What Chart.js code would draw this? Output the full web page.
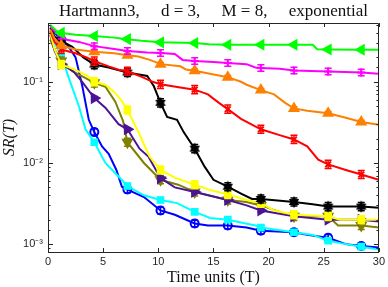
<!DOCTYPE html>
<html><head><meta charset="utf-8">
<script src="https://cdn.jsdelivr.net/npm/chart.js@4.4.1/dist/chart.umd.min.js"></script>
<style>html,body{margin:0;padding:0;background:#fff;}</style>
</head><body>
<canvas id="c" width="388" height="287"></canvas>
<script>
// ---- data (time units T, success rate SR(T)) ----
const markerT = [1.2, 4.2, 7.2, 10.2, 13.3, 16.3, 19.3, 22.3, 25.4, 28.4];
const xTickValues = [0, 5, 10, 15, 20, 25, 30];
const yTickPowers = [-3, -2, -1];

const green = [[0.2,0.50],[0.5,0.46],[0.8,0.42],[1.2,0.40],[2.5,0.38],[4.2,0.366],[6,0.35],[7.2,0.335],[8.5,0.32],[10.2,0.306],[13.3,0.30],[14.6,0.29],[16.3,0.286],[19.3,0.286],[22.3,0.286],[24,0.285],[24.4,0.252],[25.4,0.25],[28.4,0.248],[30,0.248]];
const magenta = [[0.2,0.48],[0.6,0.42],[1.2,0.37],[1.7,0.33],[2.8,0.31],[4.2,0.275],[6,0.254],[7.2,0.24],[9,0.23],[10.2,0.226],[11.5,0.22],[12.2,0.186],[13.3,0.18],[15,0.175],[16.3,0.17],[18,0.165],[18.8,0.15],[19.3,0.148],[21,0.145],[22.3,0.138],[25.4,0.134],[28.4,0.13],[30,0.126]];
const orange = [[0.2,0.44],[0.6,0.34],[1.2,0.28],[2.5,0.25],[4.2,0.235],[6,0.225],[7.2,0.212],[8.2,0.205],[9.3,0.185],[10.2,0.165],[12,0.155],[12.5,0.142],[13.3,0.137],[14.8,0.125],[16.3,0.114],[17.5,0.1],[18,0.092],[19.3,0.079],[20.5,0.07],[21.5,0.055],[22.3,0.047],[23.5,0.044],[25.4,0.041],[27,0.036],[28.4,0.032],[30,0.0295]];
const red = [[0.2,0.42],[0.6,0.31],[1.2,0.25],[2.5,0.225],[3.5,0.2],[4.2,0.18],[5.5,0.155],[6.4,0.141],[7.2,0.135],[8.5,0.115],[9.5,0.1],[10.2,0.093],[12,0.085],[13.3,0.08],[14.5,0.07],[15.5,0.055],[16.3,0.046],[17.5,0.035],[19.3,0.026],[21,0.022],[22.3,0.0195],[23.5,0.016],[24.5,0.011],[25.4,0.0096],[27,0.0082],[28.4,0.0072],[30,0.0062]];
const black = [[0.2,0.46],[0.6,0.36],[1.2,0.32],[2.2,0.27],[3.2,0.2],[4.2,0.163],[5.5,0.15],[7.2,0.13],[9,0.118],[9.6,0.088],[10.2,0.055],[10.8,0.037],[11.7,0.034],[12.3,0.024],[13.3,0.015],[14.2,0.009],[15,0.0062],[16.3,0.0051],[17.5,0.0042],[18.5,0.0036],[19.3,0.0036],[22.3,0.0033],[24,0.0031],[25.4,0.0029],[28.4,0.0029],[30,0.0028]];
const yellow = [[0.2,0.40],[0.6,0.25],[1.2,0.163],[2.5,0.14],[3.5,0.12],[4.2,0.1],[5.2,0.092],[6,0.075],[6.7,0.058],[7.2,0.045],[8.2,0.024],[9.2,0.012],[10.2,0.0082],[11.5,0.0066],[13.3,0.0054],[14.8,0.0046],[16.3,0.0041],[18,0.0035],[19.3,0.0032],[20.5,0.0026],[22.3,0.0023],[25.4,0.0022],[26.5,0.002],[28.4,0.002],[30,0.002]];
const purple = [[0.2,0.38],[0.6,0.24],[1.2,0.165],[2.3,0.134],[3.1,0.1],[4.2,0.063],[5.2,0.048],[6.4,0.03],[7.2,0.026],[8.3,0.015],[9.1,0.012],[10.2,0.0065],[11.5,0.005],[13.3,0.0044],[16.3,0.0035],[18,0.003],[19.3,0.0026],[22.3,0.0022],[25.4,0.002],[28.4,0.002],[30,0.0019]];
const olive = [[0.2,0.33],[0.6,0.25],[1.2,0.18],[2.2,0.135],[3.2,0.115],[4.2,0.097],[5.2,0.087],[6.1,0.057],[6.8,0.033],[7.2,0.018],[8.7,0.01],[10.2,0.0062],[11.8,0.0054],[13.3,0.0044],[16.3,0.0035],[18,0.0033],[19.3,0.003],[21,0.0025],[22.3,0.0022],[25.4,0.0022],[26.3,0.0017],[28.4,0.0017],[30,0.0016]];
const cyan = [[0.2,0.42],[0.6,0.3],[1.2,0.21],[1.9,0.11],[2.8,0.05],[3.4,0.026],[4.2,0.018],[5.2,0.01],[6.4,0.0068],[7.2,0.0052],[8.7,0.004],[10.2,0.0035],[11.7,0.0032],[13.3,0.0025],[14.7,0.0021],[16.3,0.002],[18.8,0.0017],[19.3,0.0016],[22.3,0.0014],[24,0.0013],[25.4,0.0011],[27,0.001],[28.4,0.00093],[30,0.00086]];
const blue = [[0.2,0.5],[0.6,0.4],[1.2,0.33],[1.8,0.28],[2.5,0.2],[3.1,0.09],[3.7,0.034],[4.2,0.024],[4.9,0.016],[5.5,0.013],[6.2,0.0082],[6.7,0.0051],[7.2,0.0047],[8.7,0.0038],[10.2,0.0026],[11.5,0.0023],[13.3,0.0018],[14.5,0.0017],[16.3,0.0017],[18,0.0016],[19.3,0.00146],[22.3,0.0014],[23.5,0.0013],[25.4,0.0012],[27,0.001],[28.4,0.00095],[30,0.00091]];
// error bar half-width (in decades) for each series
const errDecades = [0, 0.04, 0.02, 0.05, 0.05, 0.05, 0.02, 0.05, 0.03, 0.04];

// ---- styling ----
function hexagram(color, r) {
  const s = Math.ceil(r * 2 + 2);
  const c = document.createElement('canvas'); c.width = s; c.height = s;
  const g = c.getContext('2d'); g.fillStyle = color;
  const cx = s / 2, cy = s / 2;
  for (const rot of [-Math.PI / 2, Math.PI / 2]) {
    g.beginPath();
    for (let k = 0; k < 3; k++) {
      const a = rot + k * 2 * Math.PI / 3;
      const px = cx + r * Math.cos(a), py = cy + r * Math.sin(a);
      k ? g.lineTo(px, py) : g.moveTo(px, py);
    }
    g.closePath(); g.fill();
  }
  return c;
}
const series = [
  {pts: green,   color: '#00ff00', ps: 'triangle', rot: -90, fill: true,  r: 5},
  {pts: magenta, color: '#ff00ff', ps: 'cross',    rot: 0,   fill: false, r: 4},
  {pts: orange,  color: '#ff8000', ps: 'triangle', rot: 0,   fill: true,  r: 5},
  {pts: red,     color: '#ff0000', ps: 'crossRot', rot: 0,   fill: false, r: 4},
  {pts: black,   color: '#000000', ps: hexagram('#000000', 6), rot: 0, fill: true, r: 5},
  {pts: yellow,  color: '#ffff00', ps: 'rect',     rot: 0,   fill: true,  r: 4},
  {pts: purple,  color: '#4b1496', ps: 'triangle', rot: 90,  fill: true,  r: 5},
  {pts: olive,   color: '#808000', ps: 'triangle', rot: 180, fill: true,  r: 5},
  {pts: cyan,    color: '#00ffff', ps: 'rect',     rot: 0,   fill: true,  r: 4},
  {pts: blue,    color: '#0000ff', ps: 'circle',   rot: 0,   fill: false, r: 4}
];

const datasets = [];
series.forEach((s, i) => {
  const line = s.pts.map(([x, y]) => ({x, y}));
  const marks = line.filter(p => markerT.some(t => Math.abs(t - p.x) < 1e-6));
  datasets.push({
    data: marks, showLine: false, pointStyle: s.ps, pointRotation: s.rot,
    pointRadius: s.r, pointBorderWidth: 2, borderColor: s.color,
    backgroundColor: s.fill ? s.color : 'rgba(0,0,0,0)', errDec: errDecades[i]
  });
  datasets.push({
    data: line, borderColor: s.color, borderWidth: 2, pointRadius: 0, tension: 0, fill: false
  });
});

const sup = {'-': '\u207B', '0': '\u2070', '1': '\u00B9', '2': '\u00B2', '3': '\u00B3', '4': '\u2074'};
const axisColor = '#262626';

const errorBars = {
  id: 'errorBars',
  afterDatasetDraw(chart, args) {
    const ds = chart.data.datasets[args.index];
    if (!ds.errDec) return;
    const ctx = chart.ctx, xs = chart.scales.x, ys = chart.scales.y;
    const a = chart.chartArea;
    ctx.save();
    ctx.beginPath(); ctx.rect(a.left, a.top, a.right - a.left, a.bottom - a.top); ctx.clip();
    ctx.strokeStyle = ds.borderColor; ctx.lineWidth = 1.5;
    const f = Math.pow(10, ds.errDec);
    ds.data.forEach(p => {
      const x = xs.getPixelForValue(p.x);
      const y1 = ys.getPixelForValue(p.y * f), y2 = ys.getPixelForValue(p.y / f);
      ctx.beginPath();
      ctx.moveTo(x, y1); ctx.lineTo(x, y2);
      ctx.moveTo(x - 3.5, y1); ctx.lineTo(x + 3.5, y1);
      ctx.moveTo(x - 3.5, y2); ctx.lineTo(x + 3.5, y2);
      ctx.stroke();
    });
    ctx.restore();
  }
};

const boxTicks = {
  id: 'boxTicks',
  afterDraw(chart) {
    const ctx = chart.ctx, a = chart.chartArea, xs = chart.scales.x, ys = chart.scales.y;
    ctx.save();
    ctx.strokeStyle = axisColor; ctx.lineWidth = 1;
    ctx.beginPath();
    ctx.rect(Math.round(a.left) + 0.5, Math.round(a.top) + 0.5, Math.round(a.right - a.left) - 1, Math.round(a.bottom - a.top));
    ctx.stroke();
    ctx.beginPath();
    xs.ticks.forEach(t => {
      const x = Math.round(xs.getPixelForValue(t.value)) + 0.5;
      ctx.moveTo(x, a.bottom); ctx.lineTo(x, a.bottom - 4);
      ctx.moveTo(x, a.top); ctx.lineTo(x, a.top + 4);
    });
    ys.ticks.forEach(t => {
      const p = Math.log10(t.value);
      const major = Math.abs(p - Math.round(p)) < 1e-6;
      const len = major ? 5 : 2.5;
      const y = Math.round(ys.getPixelForValue(t.value)) + 0.5;
      if (y < a.top + 1 || y > a.bottom - 1) return;
      ctx.moveTo(a.left, y); ctx.lineTo(a.left + len, y);
      ctx.moveTo(a.right, y); ctx.lineTo(a.right - len, y);
    });
    ctx.stroke();
    ctx.restore();
  }
};

new Chart(document.getElementById('c'), {
  type: 'line',
  data: {datasets},
  options: {
    responsive: false,
    animation: false,
    devicePixelRatio: 1,
    layout: {padding: {left: 0, right: 2, top: 0, bottom: 0}, autoPadding: false},
    plugins: {
      legend: {display: false},
      tooltip: {enabled: false},
      title: {
        display: true, fullSize: false,
        text: 'Hartmann3,\u2003 d = 3,\u2003 M = 8,\u2003 exponential',
        color: '#111', font: {family: 'Liberation Serif', size: 17, weight: 'normal'},
        padding: {top: 1, bottom: 1.6}
      }
    },
    scales: {
      x: {
        type: 'linear', min: 0, max: 30,
        afterBuildTicks: sc => { sc.ticks = xTickValues.map(v => ({value: v})); },
        grid: {display: false, drawTicks: false},
        border: {display: true, color: axisColor, width: 1},
        ticks: {color: axisColor, font: {family: 'Liberation Sans', size: 11}, padding: 3, maxRotation: 0, autoSkip: false},
        title: {display: true, text: 'Time units (T)', color: '#111', font: {family: 'Liberation Serif', size: 16}, padding: {top: 0, bottom: 0}},
        afterFit: sc => { sc.height = 35; }
      },
      y: {
        type: 'logarithmic', min: 8e-4, max: 0.53,
        grid: {display: false, drawTicks: false},
        border: {display: true, color: axisColor, width: 1},
        ticks: {
          color: axisColor, font: {family: 'Liberation Sans', size: 11}, padding: 5, autoSkip: false,
          callback: v => {
            const p = Math.log10(v);
            const r = Math.round(p);
            if (Math.abs(p - r) > 1e-6 || !yTickPowers.includes(r)) return '';
            return '10' + String(r).split('').map(ch => sup[ch]).join('');
          }
        },
        title: {display: true, text: 'SR(T)', color: '#111', font: {family: 'Liberation Serif', size: 16, style: 'italic'}, padding: {top: 0, bottom: 0}},
        afterFit: sc => { sc.width = 48; }
      }
    }
  },
  plugins: [errorBars, boxTicks]
});
</script>
</body></html>
